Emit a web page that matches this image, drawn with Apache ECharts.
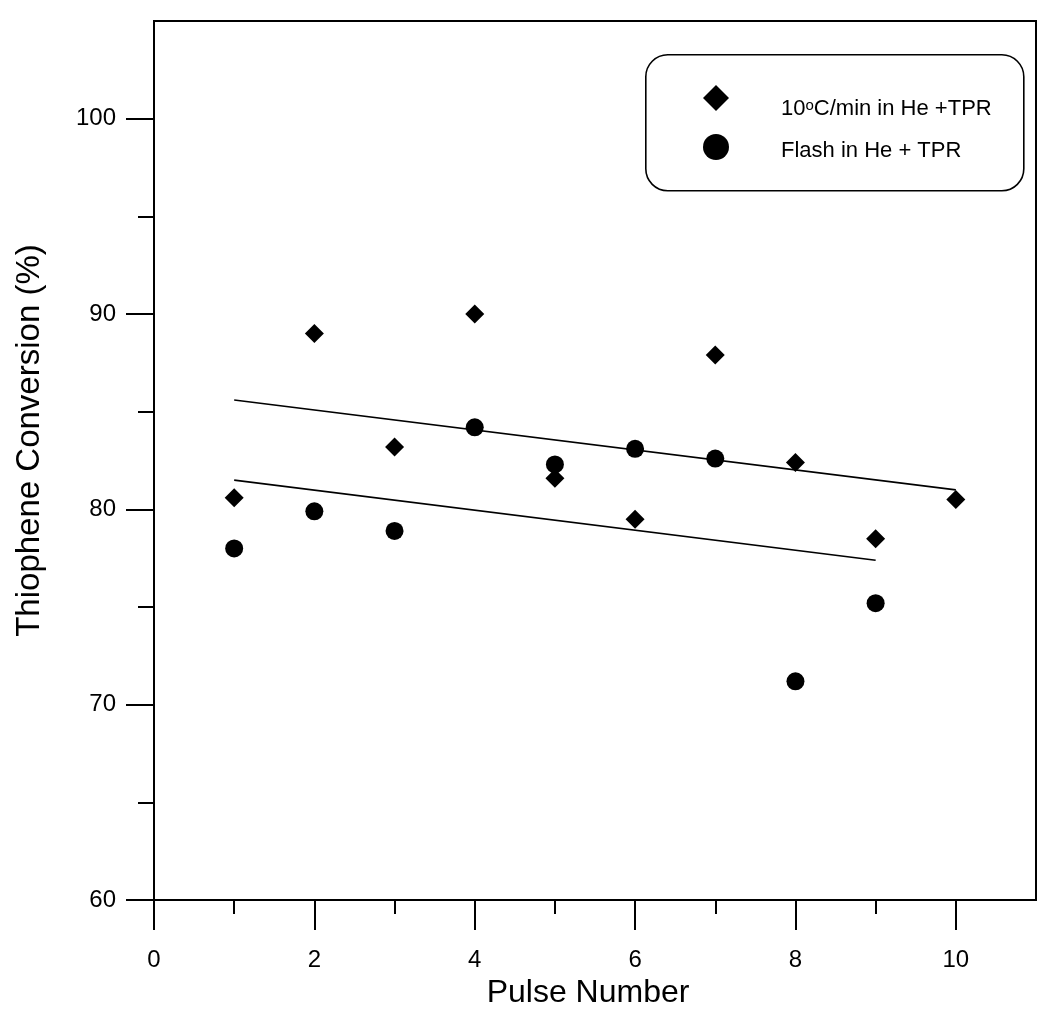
<!DOCTYPE html>
<html><head><meta charset="utf-8">
<script src="https://cdn.jsdelivr.net/npm/echarts@6/dist/echarts.min.js"></script>
<style>html,body{margin:0;padding:0;background:#fff}#c{width:1040px;height:1014px}</style>
</head><body><div id="c"></div>
<script>
// ---- data ----
const rampPulses = [1, 2, 3, 4, 5, 6, 7, 8, 9, 10];
const rampValues = [80.6, 89.0, 83.2, 90.0, 81.6, 79.5, 87.9, 82.4, 78.5, 80.5];
const flashPulses = [1, 2, 3, 4, 5, 6, 7, 8, 9];
const flashValues = [78.0, 79.9, 78.9, 84.2, 82.3, 83.1, 82.6, 71.2, 75.2];
const rampFitX = [1, 10];
const rampFitY = [85.6, 81.0];
const flashFitX = [1, 9];
const flashFitY = [81.5, 77.4];
const xTickValues = [0, 2, 4, 6, 8, 10];
const yTickValues = [60, 70, 80, 90, 100];
const seriesNames = ['10°C/min in He +TPR', 'Flash in He + TPR'];
const xTitle = 'Pulse Number';
const yTitle = 'Thiophene Conversion (%)';

const zip = (xs, ys) => xs.map((x, i) => [x, ys[i]]);
const FONT = '"Liberation Sans", Arial, Helvetica, sans-serif';
const INK = '#000000';

const chart = echarts.init(document.getElementById('c'), null, {renderer: 'canvas'});
chart.setOption({
  animation: false,
  backgroundColor: '#fff',
  grid: {left: 154, right: 4, top: 21, bottom: 113, show: true, borderColor: INK, borderWidth: 2, backgroundColor: 'transparent'},
  graphic: [{
    type: 'rect', left: 645, top: 54, z: 1,
    shape: {width: 378, height: 136, r: 22},
    style: {fill: 'transparent', stroke: INK, lineWidth: 1.6}
  }],
  legend: {
    orient: 'vertical', left: 703, top: 85, padding: 0,
    itemWidth: 26, itemHeight: 26, itemGap: 14,
    selectedMode: false,
    data: [
      {name: seriesNames[0], textStyle: {padding: [22, 0, 0, 47]}},
      {name: seriesNames[1], textStyle: {padding: [8, 0, 0, 47]}}
    ],
    formatter: n => n === seriesNames[0] ? '10{sup|o}C/min in He +TPR' : n,
    textStyle: {
      fontSize: 22, color: INK, fontFamily: FONT,
      rich: {sup: {fontSize: 15, fontFamily: FONT, color: INK, verticalAlign: 'top', padding: [0, 0, 7, 0]}}
    }
  },
  xAxis: {
    type: 'value', min: 0, max: 11, interval: 2,
    axisLine: {show: true, onZero: false, lineStyle: {color: INK, width: 2}},
    axisTick: {show: true, length: 30, customValues: xTickValues, lineStyle: {color: INK, width: 2}},
    minorTick: {show: true, splitNumber: 2, length: 14, lineStyle: {color: INK, width: 2}},
    axisLabel: {customValues: xTickValues, margin: 48, fontSize: 24, color: INK, fontFamily: FONT},
    splitLine: {show: false}, minorSplitLine: {show: false},
    name: xTitle, nameLocation: 'middle', nameGap: 72,
    nameTextStyle: {fontSize: 32, color: INK, fontFamily: FONT, padding: [0, 14, 0, 0]}
  },
  yAxis: {
    type: 'value', min: 60, max: 105, interval: 10,
    axisLine: {show: true, onZero: false, lineStyle: {color: INK, width: 2}},
    axisTick: {show: true, length: 28, customValues: yTickValues, lineStyle: {color: INK, width: 2}},
    minorTick: {show: true, splitNumber: 2, length: 16, lineStyle: {color: INK, width: 2}},
    axisLabel: {customValues: yTickValues, margin: 38, fontSize: 24, color: INK, fontFamily: FONT},
    splitLine: {show: false}, minorSplitLine: {show: false},
    name: yTitle, nameLocation: 'middle', nameGap: 108, nameRotate: 90,
    nameTextStyle: {fontSize: 33, color: INK, fontFamily: FONT, padding: [0, 0, 0, 40]}
  },
  series: [
    {name: seriesNames[0], type: 'scatter', symbol: 'diamond', symbolSize: 19,
     itemStyle: {color: INK, opacity: 1}, data: zip(rampPulses, rampValues), z: 5},
    {name: seriesNames[1], type: 'scatter', symbol: 'circle', symbolSize: 18,
     itemStyle: {color: INK, opacity: 1}, data: zip(flashPulses, flashValues), z: 5},
    {name: 'fit-ramp', type: 'line', symbol: 'none', silent: true,
     lineStyle: {color: INK, width: 1.6}, data: zip(rampFitX, rampFitY), z: 3},
    {name: 'fit-flash', type: 'line', symbol: 'none', silent: true,
     lineStyle: {color: INK, width: 1.6}, data: zip(flashFitX, flashFitY), z: 3}
  ]
});
</script></body></html>
